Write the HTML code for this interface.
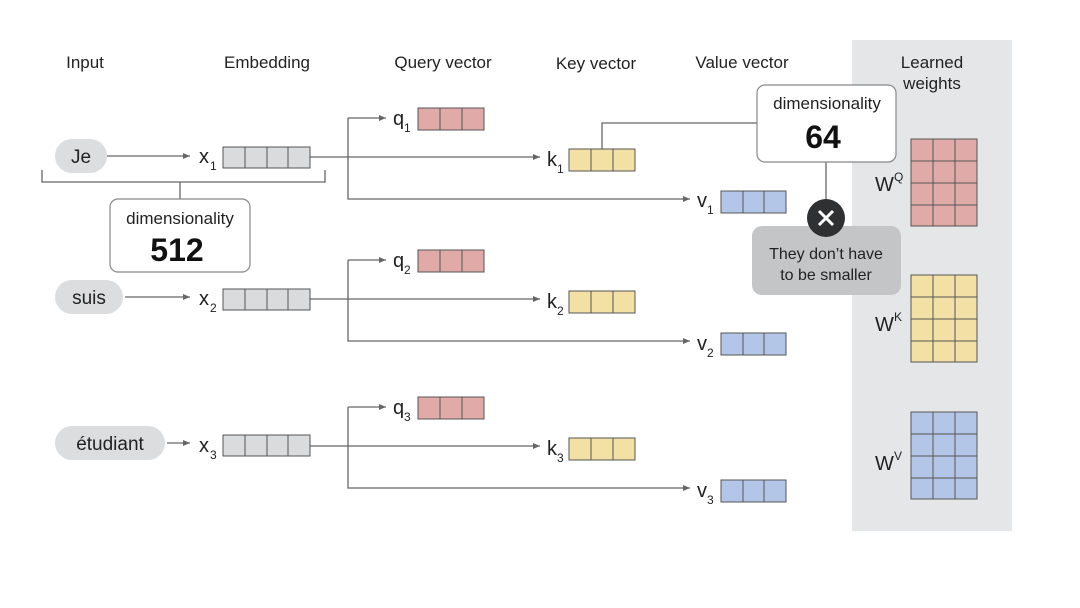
<!DOCTYPE html>
<html><head><meta charset="utf-8"><style>
html,body{margin:0;padding:0;background:#fff;}
svg{display:block;font-family:"Liberation Sans",sans-serif;}
</style></head><body>
<svg width="1080" height="608" viewBox="0 0 1080 608" xmlns="http://www.w3.org/2000/svg">
<defs>
<marker id="a" markerWidth="8" markerHeight="8" refX="7" refY="3" orient="auto" markerUnits="userSpaceOnUse"><path d="M0,0 L7,3 L0,6 z" fill="#666"/></marker>
</defs>
<rect x="852" y="40" width="160" height="491" fill="#e5e6e7"/>
<g font-size="17" fill="#222" text-anchor="middle">
<text x="85" y="68">Input</text>
<text x="267" y="68">Embedding</text>
<text x="443" y="68">Query vector</text>
<text x="596" y="69">Key vector</text>
<text x="742" y="68">Value vector</text>
<text x="932" y="68">Learned</text>
<text x="932" y="89">weights</text>
</g>
<g stroke="#666" stroke-width="1.3" fill="none">
<line x1="107" y1="156" x2="190" y2="156" marker-end="url(#a)"/>
<line x1="310" y1="157" x2="540" y2="157" marker-end="url(#a)"/>
<polyline points="348,118 348,199 690,199" marker-end="url(#a)"/>
<line x1="348" y1="118" x2="386" y2="118" marker-end="url(#a)"/>
<line x1="125" y1="297" x2="190" y2="297" marker-end="url(#a)"/>
<line x1="310" y1="299" x2="540" y2="299" marker-end="url(#a)"/>
<polyline points="348,260 348,341 690,341" marker-end="url(#a)"/>
<line x1="348" y1="260" x2="386" y2="260" marker-end="url(#a)"/>
<line x1="167" y1="443" x2="190" y2="443" marker-end="url(#a)"/>
<line x1="310" y1="446" x2="540" y2="446" marker-end="url(#a)"/>
<polyline points="348,407 348,488 690,488" marker-end="url(#a)"/>
<line x1="348" y1="407" x2="386" y2="407" marker-end="url(#a)"/>
<polyline points="42,170 42,182 325,182 325,170"/>
<line x1="180" y1="182" x2="180" y2="199"/>
<polyline points="602,149 602,123 757,123"/>
<line x1="826" y1="162" x2="826" y2="203"/>
</g>
<g fill="#dcdddf">
<rect x="55" y="139" width="52" height="34" rx="17"/>
<rect x="55" y="280" width="68" height="34" rx="17"/>
<rect x="55" y="426" width="110" height="34" rx="17"/>
</g>
<g font-size="19" fill="#222" text-anchor="middle">
<text x="81" y="163">Je</text>
<text x="89" y="304">suis</text>
<text x="110" y="450">étudiant</text>
</g>
<g font-size="20" fill="#222">
<text x="199" y="163">x</text><text x="210" y="170" font-size="12">1</text>
<text x="199" y="305">x</text><text x="210" y="312" font-size="12">2</text>
<text x="199" y="452">x</text><text x="210" y="459" font-size="12">3</text>
<text x="393" y="125">q</text><text x="404" y="132" font-size="12">1</text>
<text x="393" y="267">q</text><text x="404" y="274" font-size="12">2</text>
<text x="393" y="414">q</text><text x="404" y="421" font-size="12">3</text>
<text x="547" y="166">k</text><text x="557" y="173" font-size="12">1</text>
<text x="547" y="308">k</text><text x="557" y="315" font-size="12">2</text>
<text x="547" y="455">k</text><text x="557" y="462" font-size="12">3</text>
<text x="697" y="207">v</text><text x="707" y="214" font-size="12">1</text>
<text x="697" y="350">v</text><text x="707" y="357" font-size="12">2</text>
<text x="697" y="497">v</text><text x="707" y="504" font-size="12">3</text>
<text x="875" y="191">W</text><text x="894" y="181" font-size="12">Q</text>
<text x="875" y="331">W</text><text x="894" y="321" font-size="12">K</text>
<text x="875" y="470">W</text><text x="894" y="460" font-size="12">V</text>
</g>
<g stroke="#555" stroke-width="1">
<g fill="#dadbdd">
<rect x="223" y="147" width="87" height="21"/><rect x="223" y="289" width="87" height="21"/><rect x="223" y="435" width="87" height="21"/>
</g>
<g fill="#e0aaa9"><rect x="418" y="108" width="66" height="22"/><rect x="418" y="250" width="66" height="22"/><rect x="418" y="397" width="66" height="22"/></g>
<g fill="#f2e0a5"><rect x="569" y="149" width="66" height="22"/><rect x="569" y="291" width="66" height="22"/><rect x="569" y="438" width="66" height="22"/></g>
<g fill="#b3c6e7"><rect x="721" y="191" width="65" height="22"/><rect x="721" y="333" width="65" height="22"/><rect x="721" y="480" width="65" height="22"/></g>
<path d="M245,147v21M267,147v21M288,147v21M245,289v21M267,289v21M288,289v21M245,435v21M267,435v21M288,435v21"/>
<path d="M440,108v22M462,108v22M440,250v22M462,250v22M440,397v22M462,397v22"/>
<path d="M591,149v22M613,149v22M591,291v22M613,291v22M591,438v22M613,438v22"/>
<path d="M743,191v22M764,191v22M743,333v22M764,333v22M743,480v22M764,480v22"/>
<rect x="911" y="139" width="66" height="87" fill="#e0aaa9"/>
<rect x="911" y="275" width="66" height="87" fill="#f2e0a5"/>
<rect x="911" y="412" width="66" height="87" fill="#b3c6e7"/>
<path d="M933,139v87M955,139v87M911,161h66M911,183h66M911,205h66"/>
<path d="M933,275v87M955,275v87M911,297h66M911,319h66M911,341h66"/>
<path d="M933,412v87M955,412v87M911,434h66M911,456h66M911,478h66"/>
</g>
<rect x="110" y="199" width="140" height="73" rx="8" fill="#fff" stroke="#888" stroke-width="1.2"/>
<text x="180" y="224" font-size="17" fill="#222" text-anchor="middle">dimensionality</text>
<text x="177" y="261" font-size="32" font-weight="bold" fill="#111" text-anchor="middle">512</text>
<rect x="757" y="85" width="139" height="77" rx="8" fill="#fff" stroke="#888" stroke-width="1.2"/>
<text x="827" y="109" font-size="17" fill="#222" text-anchor="middle">dimensionality</text>
<text x="823" y="148" font-size="32" font-weight="bold" fill="#111" text-anchor="middle">64</text>
<rect x="752" y="226" width="149" height="69" rx="10" fill="#c4c5c7"/>
<text x="826" y="259" font-size="16" fill="#222" text-anchor="middle">They don’t have</text>
<text x="826" y="280" font-size="16" fill="#222" text-anchor="middle">to be smaller</text>
<circle cx="826" cy="218" r="19" fill="#2f3032"/>
<path d="M819,211L833,225M833,211L819,225" stroke="#fff" stroke-width="3"/>
</svg>
</body></html>
